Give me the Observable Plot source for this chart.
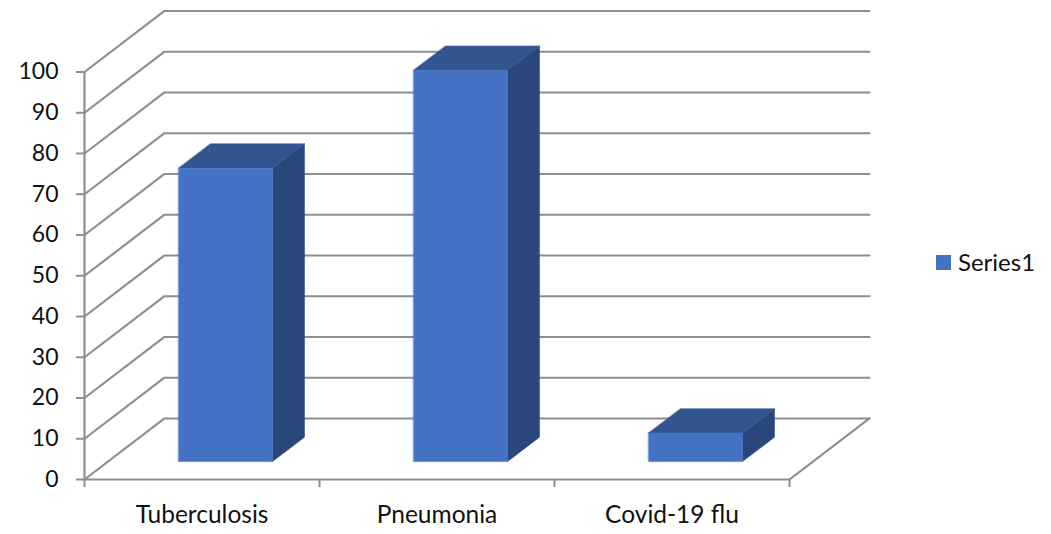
<!DOCTYPE html>
<html>
<head>
<meta charset="utf-8">
<style>
html,body{margin:0;padding:0;background:#fff}
#wrap{position:relative;width:1051px;height:534px;overflow:hidden;font-family:Lato,sans-serif;color:#111}
#legend{position:absolute;left:936px;top:249px;display:flex;align-items:center;font-size:24px;line-height:26px;gap:7px}
#legend i{display:block;width:15px;height:15px;background:#4472c4}
svg{display:block}
</style>
<script src="https://cdn.jsdelivr.net/npm/d3@7"></script>
<script src="https://cdn.jsdelivr.net/npm/@observablehq/plot@0.6"></script>
</head>
<body>
<div id="wrap"><div id="chart"></div><div id="legend"><i></i><span>Series1</span></div></div>
<script>
const categories = ["Tuberculosis", "Pneumonia", "Covid-19 flu"];
const values = [72, 96, 7];
const yTicks = [0, 10, 20, 30, 40, 50, 60, 70, 80, 90, 100];
const seriesName = "Series1";

// Oblique projection: full depth shifts a point by these amounts in data units
const depthX = 0.3404;
const depthY = 14.97;
const barWidth = 0.4;
const barDepth0 = 0.294;
const barDepth1 = 0.694;
const project = (x, v, d) => ({x: x + d * depthX, y: v + d * depthY});

// Walls and floor
const wallLines = [];
yTicks.forEach(v => {
  [[0, v, 0], [0, v, 1], [3, v, 1]].forEach(p => wallLines.push({...project(...p), id: "g" + v}));
});
[[3, 0, 1], [3, 0, 0]].forEach(p => wallLines.push({...project(...p), id: "floor"}));
[[0, 0, 0], [3, 0, 0]].forEach(p => wallLines.push({...project(...p), id: "base"}));
[[0, 0, 0], [0, 100, 0]].forEach(p => wallLines.push({...project(...p), id: "axis"}));

// Bar faces
const faces = [];
categories.forEach((c, i) => {
  const l = i + 0.5 - barWidth / 2, r = i + 0.5 + barWidth / 2, v = values[i];
  const add = (pts, face) => pts.forEach(p => faces.push({...project(...p), id: c + face, face}));
  add([[r, 0, barDepth0], [r, 0, barDepth1], [r, v, barDepth1], [r, v, barDepth0]], "side");
  add([[l, v, barDepth0], [r, v, barDepth0], [r, v, barDepth1], [l, v, barDepth1]], "top");
  add([[l, 0, barDepth0], [r, 0, barDepth0], [r, v, barDepth0], [l, v, barDepth0]], "front");
});
const faceFill = {front: "#4472c4", top: "#325590", side: "#2a477c"};

const faceMark = f => Plot.line(faces.filter(d => d.face === f), {
  x: "x", y: "y", z: "id", fill: faceFill[f], stroke: faceFill[f], strokeWidth: 0.5, curve: "linear-closed"
});

const chart = Plot.plot({
  width: 1051,
  height: 534,
  marginLeft: 84,
  marginRight: 262,
  marginTop: 71.5,
  marginBottom: 55,
  style: {background: "#fff", fontFamily: "Lato, sans-serif", color: "#111", overflow: "visible"},
  x: {domain: [0, 3], axis: null},
  y: {domain: [0, 100], axis: null},
  marks: [
    Plot.line(wallLines, {x: "x", y: "y", z: "id", stroke: "#8e8e8e", strokeWidth: 2.2, curve: "linear"}),
    Plot.axisY({ticks: yTicks, tickSize: 8, tickPadding: 18, stroke: "#8e8e8e", strokeWidth: 2, label: null, fill: "#111", fontSize: 23, textStroke: "none"}),
    Plot.axisX({ticks: [0, 1, 2, 3], tickSize: 8, tickFormat: () => "", stroke: "#8e8e8e", strokeWidth: 2, label: null}),
    Plot.axisX({ticks: categories.map((c, i) => i + 0.5), tickSize: 0, tickPadding: 26, tickFormat: t => categories[t - 0.5], label: null, fill: "#111", fontSize: 24.5}),
    faceMark("side"),
    faceMark("top"),
    faceMark("front")
  ]
});
document.getElementById("chart").append(chart);
document.querySelector("#legend span").textContent = seriesName;
</script>
</body>
</html>
